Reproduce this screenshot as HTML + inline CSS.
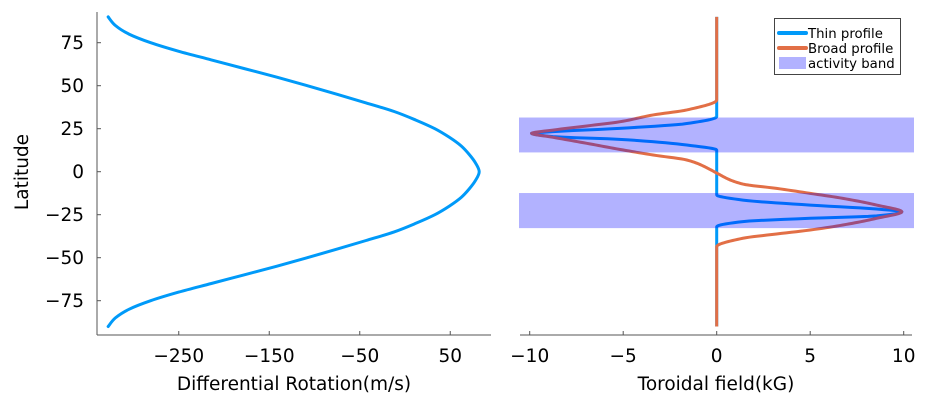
<!DOCTYPE html>
<html><head><meta charset="utf-8"><style>
body{margin:0;background:#fff;}
svg{display:block;font-family:"DejaVu Sans","Liberation Sans",sans-serif;}
</style></head><body>
<svg id="chart" width="926" height="408" viewBox="0 0 926 408" xmlns="http://www.w3.org/2000/svg"></svg>
<script>
// Left panel data
const rotLat = [90,85,80,75,70,65,60,55,50,45,40,35,30,25,20,15,10,5,0,-5,-10,-15,-20,-25,-30,-35,-40,-45,-50,-55,-60,-65,-70,-75,-80,-85,-90];
const rotVal = [-328,-320,-305,-281,-250,-214,-178,-142,-108,-75,-43,-12,12,33,49,62,71,78,82,78,71,62,49,33,12,-12,-43,-75,-108,-142,-178,-214,-250,-281,-305,-320,-328];
const rotTicks = [-250,-150,-50,50];
const latTicks = [75,50,25,0,-25,-50,-75];
// Right panel data
const thinLat = [90,32,28,25.2,23.3,22.3,20.4,18.8,15.5,12.6,-13.5,-16.5,-19.4,-21.7,-23.3,-25.7,-27.1,-29,-32,-90];
const thinVal = [0,0,-1.6,-5.2,-8.75,-9.9,-8.75,-5.2,-1.6,0,0,1.4,5,8.55,9.9,8.55,5,1.4,0,0];
const broadLat = [90,41.7,35.9,33,29,26.6,24.2,22.3,20,16.5,13,9.7,6.8,1,-0.8,-7.2,-9.7,-12.6,-15.5,-19.4,-23.3,-27.1,-31,-33.9,-36.2,-38.7,-43.6,-90];
const broadVal = [0,0,-1.6,-3.4,-5.2,-6.95,-8.75,-9.9,-8.75,-6.95,-5.2,-3.4,-1.6,-0.3,0,1.4,3.2,5,6.75,8.55,9.9,8.55,6.75,5,3.2,1.4,0,0];
const bandTop = [31.5,-12.4];
const bandBottom = [11.2,-32.8];
const fieldTicks = [-10,-5,0,5,10];

const svg = document.getElementById('chart');
const NS = 'http://www.w3.org/2000/svg';
function mk(tag, attrs, parent){const e=document.createElementNS(NS,tag);for(const k in attrs)e.setAttribute(k,attrs[k]);(parent||svg).appendChild(e);return e;}
const yS = v => 171.7 - v*1.72;
const xL = v => 405 + v*0.905;
const xR = v => 716.7 + v*18.7;

function smooth(lat, val, fx){
  const n=lat.length, d=[], m=[];
  for(let i=0;i<n-1;i++) d.push((val[i+1]-val[i])/(lat[i+1]-lat[i]));
  m[0]=d[0]; m[n-1]=d[n-2];
  for(let i=1;i<n-1;i++){
    if(d[i-1]*d[i]<=0) m[i]=0;
    else { const w1=2*(lat[i+1]-lat[i])+(lat[i]-lat[i-1]), w2=(lat[i+1]-lat[i])+2*(lat[i]-lat[i-1]);
      m[i]=(w1+w2)/(w1/d[i-1]+w2/d[i]); }
  }
  const pts=[];
  for(let i=0;i<n-1;i++){
    const h=lat[i+1]-lat[i], steps=Math.max(2,Math.ceil(Math.abs(h)*3));
    for(let s=0;s<steps;s++){
      const t=s/steps, t2=t*t, t3=t2*t;
      const v=(2*t3-3*t2+1)*val[i]+(t3-2*t2+t)*h*m[i]+(-2*t3+3*t2)*val[i+1]+(t3-t2)*h*m[i+1];
      pts.push(fx(v).toFixed(2)+','+yS(lat[i]+t*h).toFixed(2));
    }
  }
  pts.push(fx(val[n-1]).toFixed(2)+','+yS(lat[n-1]).toFixed(2));
  return pts.join(' ');
}
function catmull(lat, val, fx){
  const P=lat.map((l,i)=>[fx(val[i]),yS(l)]);
  let dstr='M'+P[0][0].toFixed(2)+','+P[0][1].toFixed(2);
  for(let i=0;i<P.length-1;i++){
    const p0=P[Math.max(0,i-1)],p1=P[i],p2=P[i+1],p3=P[Math.min(P.length-1,i+2)];
    const c1=[p1[0]+(p2[0]-p0[0])/6,p1[1]+(p2[1]-p0[1])/6];
    const c2=[p2[0]-(p3[0]-p1[0])/6,p2[1]-(p3[1]-p1[1])/6];
    dstr+=' C'+c1.map(v=>v.toFixed(2)).join(',')+' '+c2.map(v=>v.toFixed(2)).join(',')+' '+p2.map(v=>v.toFixed(2)).join(',');
  }
  return dstr;
}

let g = mk('g',{});


let e = mk('line',{x1:97,y1:12,x2:97,y2:335,stroke:'#555','stroke-width':1},g);

e = mk('line',{x1:97,y1:335,x2:491,y2:335,stroke:'#555','stroke-width':1},g);

latTicks.forEach(t=>{
  const y=yS(t);
  mk('line',{x1:97,y1:y,x2:101,y2:y,stroke:'#555'},g);
  e = mk('text',{x:84,y:y+6.5,'text-anchor':'end','font-size':18.5,fill:'#000'},g);
  e.textContent = t<0 ? '\u2212'+(-t) : String(t);
  
});
rotTicks.forEach(t=>{
  const x=xL(t);
  mk('line',{x1:x,y1:335,x2:x,y2:331,stroke:'#555'},g);
  e = mk('text',{x:x,y:362,'text-anchor':'middle','font-size':18.5,fill:'#000'},g);
  e.textContent = t<0 ? '\u2212'+(-t) : String(t);
  
});
e = mk('text',{x:0,y:0,'text-anchor':'middle','font-size':18.5,fill:'#000',transform:'translate(28,172) rotate(-90)'},g);
e.textContent='Latitude';

e = mk('text',{x:294,y:390,'text-anchor':'middle','font-size':18.5,fill:'#000'},g);
e.textContent='Differential Rotation(m/s)';

e = mk('path',{d:catmull(rotLat,rotVal,xL),fill:'none',stroke:'#009af9','stroke-width':3,'stroke-linejoin':'round','stroke-linecap':'round'},g);


let g2 = mk('g',{});


e = mk('line',{x1:520,y1:335,x2:912,y2:335,stroke:'#555'},g2);

fieldTicks.forEach(t=>{
  const x=xR(t);
  mk('line',{x1:x,y1:335,x2:x,y2:331,stroke:'#555'},g2);
  e = mk('text',{x:x,y:362,'text-anchor':'middle','font-size':18.5,fill:'#000'},g2);
  e.textContent = t<0 ? '\u2212'+(-t) : String(t);
  
});
e = mk('text',{x:716,y:390,'text-anchor':'middle','font-size':18.5,fill:'#000'},g2);
e.textContent='Toroidal field(kG)';

e = mk('polyline',{points:smooth(thinLat,thinVal,xR),fill:'none',stroke:'#009af9','stroke-width':3,'stroke-linejoin':'round'},g2);

e = mk('polyline',{points:smooth(broadLat,broadVal,xR),fill:'none',stroke:'#e26f46','stroke-width':3,'stroke-linejoin':'round'},g2);

bandTop.forEach((t,i)=>{
  const y1=yS(t), y2=yS(bandBottom[i]);
  e = mk('rect',{x:519,y:y1,width:395,height:y2-y1,fill:'rgba(0,0,255,0.3)'},g2);
  
});

let lg = mk('g',{});


mk('rect',{x:774.5,y:18.5,width:126,height:56,fill:'#fff',stroke:'#444','stroke-width':1},lg);
const items=[['Thin profile','#009af9','line'],['Broad profile','#e26f46','line'],['activity band','rgba(0,0,255,0.3)','rect']];
items.forEach((it,i)=>{
  const y=33+i*15;
  const ent = mk('g',{},lg);
  
  
  if(it[2]==='line') mk('line',{x1:779,y1:y,x2:806,y2:y,stroke:it[1],'stroke-width':4,'stroke-linecap':'round'},ent);
  else mk('rect',{x:779,y:y-6,width:27,height:12,fill:it[1]},ent);
  const t=mk('text',{x:808,y:y+5,'font-size':13.3,fill:'#000'},ent);
  t.textContent=it[0];
});
</script>
</body></html>
